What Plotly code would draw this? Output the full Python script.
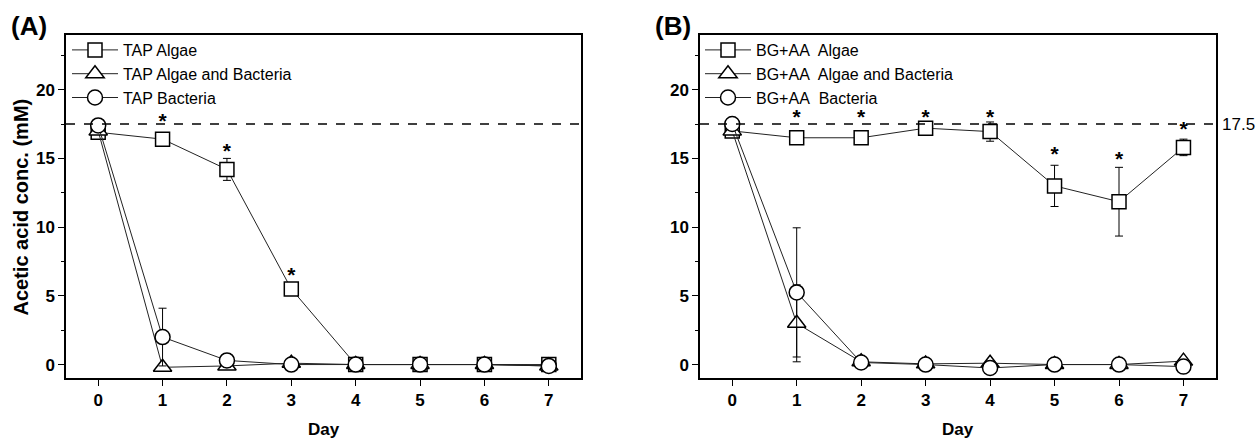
import plotly.graph_objects as go

days = [0, 1, 2, 3, 4, 5, 6, 7]

# Panel A (TAP)
a_algae = [16.9, 16.4, 14.2, 5.5, 0.0, 0.0, 0.0, 0.0]
a_algae_err = [0.2, 0.4, 0.8, 0.2, 0.2, 0.1, 0.1, 0.1]
a_mix = [17.0, -0.2, -0.1, 0.1, 0.0, 0.0, 0.0, -0.1]
a_mix_err = [0.2, 0.1, 0.1, 0.1, 0.2, 0.1, 0.1, 0.1]
a_bact = [17.4, 2.0, 0.3, 0.0, 0.0, 0.0, 0.0, -0.1]
a_bact_err = [0.3, 2.1, 0.5, 0.1, 0.3, 0.1, 0.1, 0.1]
a_star_days = [1, 2, 3]
a_star_y = [17.6, 15.4, 6.4]

# Panel B (BG+AA)
b_algae = [17.0, 16.5, 16.5, 17.2, 16.95, 13.0, 11.85, 15.8]
b_algae_err = [0.2, 0.4, 0.1, 0.35, 0.7, 1.5, 2.5, 0.6]
b_mix = [17.0, 3.0, 0.2, 0.05, 0.1, 0.0, 0.0, 0.25]
b_mix_err = [0.2, 2.8, 0.1, 0.1, 0.1, 0.1, 0.1, 0.1]
b_bact = [17.5, 5.25, 0.15, 0.0, -0.25, 0.0, 0.0, -0.15]
b_bact_err = [0.3, 4.7, 0.1, 0.1, 0.1, 0.1, 0.1, 0.1]
b_star_days = [1, 2, 3, 4, 5, 6, 7]
b_star_y = [17.9, 17.9, 17.9, 17.9, 15.2, 14.8, 17.0]

reference_level = 17.5
y_ticks = [0, 5, 10, 15, 20]

names_a = ["TAP Algae", "TAP Algae and Bacteria", "TAP Bacteria"]
names_b = ["BG+AA\u00a0 Algae", "BG+AA\u00a0 Algae and Bacteria", "BG+AA\u00a0 Bacteria"]
symbols = ["square", "triangle-up", "circle"]
sizes = [14, 16, 15]

W, H = 1259, 439
FONT = "Arial, Liberation Sans, sans-serif"

def px_x(p):
    return p / W

def px_y(p):
    return 1 - p / H

fig = go.Figure()

series_a = [(a_algae, a_algae_err), (a_mix, a_mix_err), (a_bact, a_bact_err)]
series_b = [(b_algae, b_algae_err), (b_mix, b_mix_err), (b_bact, b_bact_err)]

for series, names, xa, ya, leg in [
    (series_a, names_a, "x", "y", "legend"),
    (series_b, names_b, "x2", "y2", "legend2"),
]:
    for (vals, errs), name, sym, sz in zip(series, names, symbols, sizes):
        fig.add_trace(go.Scatter(
            x=days, y=vals, name=name, mode="lines+markers",
            xaxis=xa, yaxis=ya, legend=leg,
            line=dict(color="#222222", width=1),
            marker=dict(symbol=sym, size=sz, color="white",
                        line=dict(color="black", width=1.5)),
            error_y=dict(type="data", array=errs, visible=True,
                         color="black", thickness=1, width=4),
            hoverinfo="skip",
        ))

for sd, sy, xa, ya in [(a_star_days, a_star_y, "x", "y"), (b_star_days, b_star_y, "x2", "y2")]:
    fig.add_trace(go.Scatter(
        x=sd, y=sy, mode="text", text=["*"] * len(sd), showlegend=False,
        xaxis=xa, yaxis=ya, textposition="middle center",
        textfont=dict(family=FONT, size=21, color="black", weight="bold"),
        hoverinfo="skip",
    ))

# dashed reference lines
for xr, yr in [("x domain", "y"), ("x2 domain", "y2")]:
    fig.add_shape(type="line", xref=xr, yref=yr, x0=0, x1=1,
                  y0=reference_level, y1=reference_level,
                  line=dict(color="black", width=1.5, dash="dash"))

axis_common = dict(
    showline=True, linecolor="black", linewidth=1.5, mirror=True,
    showgrid=False, zeroline=False, ticks="outside", ticklen=6,
    tickwidth=1.2, tickcolor="black",
    tickfont=dict(family=FONT, size=17, color="black", weight="bold"),
)

xa_common = dict(axis_common, range=[-0.5, 7.5], tickmode="array", tickvals=days,
                 ticktext=[str(d) for d in days])
ya_common = dict(axis_common, range=[-1, 24], tickmode="array", tickvals=y_ticks,
                 ticktext=[str(t) for t in y_ticks],
                 minor=dict(ticks="outside", ticklen=3.5, dtick=2.5, tick0=0,
                            tickcolor="black", tickwidth=1.2, showgrid=False))

y_dom = [px_y(378.3), px_y(34.7)]
xa_dom = [px_x(66), px_x(581)]
xb_dom = [px_x(700), px_x(1215.7)]

legend_common = dict(xanchor="left", yanchor="top", bgcolor="rgba(0,0,0,0)",
                     borderwidth=0, itemwidth=46,
                     font=dict(family=FONT, size=16, color="black"))

fig.update_layout(
    width=W, height=H,
    margin=dict(l=0, r=0, t=0, b=0),
    paper_bgcolor="white", plot_bgcolor="white",
    font=dict(family=FONT, color="black"),
    xaxis=dict(xa_common, domain=xa_dom, anchor="y"),
    yaxis=dict(ya_common, domain=y_dom, anchor="x"),
    xaxis2=dict(xa_common, domain=xb_dom, anchor="y2"),
    yaxis2=dict(ya_common, domain=y_dom, anchor="x2"),
    legend=dict(legend_common, x=px_x(67), y=px_y(33)),
    legend2=dict(legend_common, x=px_x(700), y=px_y(33)),
    showlegend=True,
)

title_font = dict(family=FONT, size=17, color="black", weight="bold")
annotations = [
    dict(text="(A)", x=px_x(9), y=px_y(26), xref="paper", yref="paper",
         xanchor="left", yanchor="middle", showarrow=False,
         font=dict(family=FONT, size=26, color="black", weight="bold")),
    dict(text="(B)", x=px_x(653), y=px_y(26), xref="paper", yref="paper",
         xanchor="left", yanchor="middle", showarrow=False,
         font=dict(family=FONT, size=26, color="black", weight="bold")),
    dict(text="Acetic acid conc. (mM)", x=px_x(20), y=px_y(207.5),
         xref="paper", yref="paper", xanchor="center", yanchor="middle",
         textangle=-90, showarrow=False,
         font=dict(family=FONT, size=20, color="black", weight="bold")),
    dict(text="Day", x=(xa_dom[0] + xa_dom[1]) / 2, y=px_y(429),
         xref="paper", yref="paper", xanchor="center", yanchor="middle",
         showarrow=False, font=title_font),
    dict(text="Day", x=(xb_dom[0] + xb_dom[1]) / 2, y=px_y(429),
         xref="paper", yref="paper", xanchor="center", yanchor="middle",
         showarrow=False, font=title_font),
    dict(text="17.5", x=px_x(1257), y=reference_level, xref="paper", yref="y2",
         xanchor="right", yanchor="middle", showarrow=False,
         font=dict(family=FONT, size=17, color="black")),
]
fig.update_layout(annotations=annotations)

fig.write_html("out.html", config={"displayModeBar": False},
               post_script="document.body.style.margin='0';document.body.style.overflow='hidden';")
